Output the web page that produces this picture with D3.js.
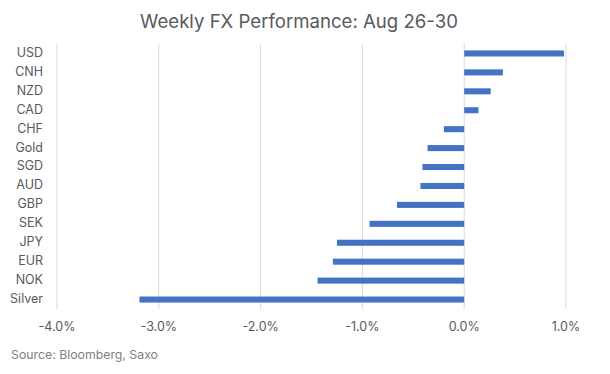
<!DOCTYPE html>
<html>
<head>
<meta charset="utf-8">
<script src="https://cdn.jsdelivr.net/npm/d3@7"></script>
<style>
  body { margin: 0; background: #fff; }
  svg { font-family: Inter, Roboto, sans-serif; }
</style>
</head>
<body>
<svg id="chart"></svg>
<script>
// currencies, top to bottom
var currencies = ["USD", "CNH", "NZD", "CAD", "CHF", "Gold", "SGD", "AUD", "GBP", "SEK", "JPY", "EUR", "NOK", "Silver"];
// weekly change, %
var changes = [0.98, 0.38, 0.26, 0.14, -0.20, -0.36, -0.41, -0.43, -0.66, -0.93, -1.25, -1.29, -1.44, -3.19];
var tickValues = [-4, -3, -2, -1, 0, 1];

var data = currencies.map(function(c, i) { return { name: c, value: changes[i] }; });

var width = 610, height = 374;
var margin = { top: 44, right: 44, bottom: 65, left: 57 };

var svg = d3.select("#chart")
  .attr("width", width)
  .attr("height", height);

var x = d3.scaleLinear()
  .domain([-4, 1])
  .range([margin.left, width - margin.right]);

var y = d3.scaleBand()
  .domain(currencies)
  .range([margin.top, height - margin.bottom])
  .paddingInner(0.68)
  .paddingOuter(0.34);

// gridlines
svg.append("g")
  .selectAll("line")
  .data(tickValues)
  .enter().append("line")
  .attr("x1", d => x(d))
  .attr("x2", d => x(d))
  .attr("y1", margin.top)
  .attr("y2", height - margin.bottom)
  .style("stroke", "#d9d9d9")
  .style("stroke-width", "1px");

// bars
svg.append("g")
  .selectAll("rect")
  .data(data)
  .enter().append("rect")
  .attr("x", d => x(Math.min(0, d.value)))
  .attr("y", d => y(d.name))
  .attr("width", d => Math.abs(x(d.value) - x(0)))
  .attr("height", y.bandwidth())
  .style("fill", "#4472c4");

// category labels
svg.append("g")
  .selectAll("text")
  .data(currencies)
  .enter().append("text")
  .attr("x", margin.left - 14)
  .attr("y", d => y(d) + y.bandwidth() / 2)
  .attr("text-anchor", "end")
  .attr("dominant-baseline", "middle")
  .style("font-size", "12.5px")
  .style("fill", "#595959")
  .text(d => d);

// x axis labels, plain hyphen like the original
var fmt = d3.format(".1f");
svg.append("g")
  .selectAll("text")
  .data(tickValues)
  .enter().append("text")
  .attr("x", d => x(d))
  .attr("y", 331)
  .attr("text-anchor", "middle")
  .style("font-size", "12.5px")
  .style("fill", "#595959")
  .text(d => fmt(d).replace("\u2212", "-") + "%");

// title
svg.append("text")
  .attr("x", 299)
  .attr("y", 28)
  .attr("text-anchor", "middle")
  .style("font-size", "18.6px")
  .style("fill", "#595959")
  .text("Weekly FX Performance: Aug 26-30");

// source
svg.append("text")
  .attr("x", 11)
  .attr("y", 359)
  .style("font-size", "12.3px")
  .style("fill", "#7f7f7f")
  .text("Source: Bloomberg, Saxo");
</script>
</body>
</html>
